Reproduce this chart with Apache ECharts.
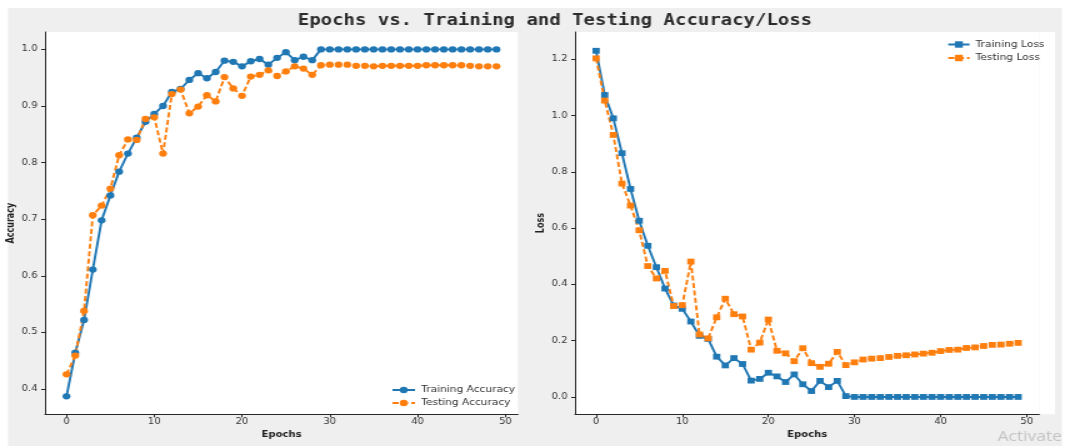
<!DOCTYPE html>
<html>
<head>
<meta charset="utf-8">
<script src="https://cdn.jsdelivr.net/npm/echarts@6/dist/echarts.min.js"></script>
<style>
  html, body { margin: 0; padding: 0; overflow: hidden; background: #fff; }
  /* the reference is a horizontally stretched screenshot, so draw narrow and stretch */
  #chart { width: 855.2px; height: 446px; transform: scaleX(1.25); transform-origin: 0 0; }
</style>
</head>
<body>
<div id="chart"></div>
<script>
  var epochs = [0, 1, 2, 3, 4, 5, 6, 7, 8, 9, 10, 11, 12, 13, 14, 15, 16, 17, 18, 19,
    20, 21, 22, 23, 24, 25, 26, 27, 28, 29, 30, 31, 32, 33, 34, 35, 36, 37, 38, 39,
    40, 41, 42, 43, 44, 45, 46, 47, 48, 49];

  var trainAcc = [0.387, 0.464, 0.522, 0.611, 0.698, 0.742, 0.784, 0.816, 0.844, 0.872,
    0.886, 0.900, 0.925, 0.930, 0.946, 0.958, 0.949, 0.960, 0.980, 0.978,
    0.970, 0.979, 0.983, 0.973, 0.985, 0.995, 0.981, 0.987, 0.981, 1.000,
    1.000, 1.000, 1.000, 1.000, 1.000, 1.000, 1.000, 1.000, 1.000, 1.000,
    1.000, 1.000, 1.000, 1.000, 1.000, 1.000, 1.000, 1.000, 1.000, 1.000];

  var testAcc = [0.426, 0.459, 0.538, 0.707, 0.724, 0.754, 0.813, 0.841, 0.840, 0.877,
    0.880, 0.816, 0.921, 0.929, 0.887, 0.899, 0.919, 0.908, 0.951, 0.931,
    0.918, 0.952, 0.955, 0.963, 0.953, 0.961, 0.970, 0.966, 0.955, 0.972,
    0.973, 0.973, 0.973, 0.971, 0.971, 0.970, 0.971, 0.971, 0.971, 0.971,
    0.971, 0.972, 0.972, 0.972, 0.972, 0.972, 0.971, 0.970, 0.970, 0.970];

  var trainLoss = [1.230, 1.073, 0.990, 0.866, 0.739, 0.626, 0.537, 0.461, 0.385, 0.325,
    0.313, 0.268, 0.217, 0.206, 0.143, 0.112, 0.138, 0.117, 0.058, 0.064,
    0.086, 0.073, 0.053, 0.080, 0.045, 0.021, 0.057, 0.035, 0.057, 0.003,
    0.000, 0.000, 0.000, 0.000, 0.000, 0.000, 0.000, 0.000, 0.000, 0.000,
    0.000, 0.000, 0.000, 0.000, 0.000, 0.000, 0.000, 0.000, 0.000, 0.000];

  var testLoss = [1.203, 1.053, 0.931, 0.758, 0.680, 0.592, 0.465, 0.421, 0.448, 0.323,
    0.326, 0.481, 0.222, 0.208, 0.283, 0.349, 0.294, 0.286, 0.168, 0.193,
    0.275, 0.164, 0.155, 0.127, 0.173, 0.120, 0.107, 0.118, 0.160, 0.113,
    0.123, 0.133, 0.136, 0.138, 0.142, 0.146, 0.148, 0.151, 0.154, 0.157,
    0.163, 0.167, 0.168, 0.174, 0.176, 0.181, 0.185, 0.186, 0.189, 0.192];

  var epochTicks = [0, 10, 20, 30, 40, 50];
  var accTicks = [0.4, 0.5, 0.6, 0.7, 0.8, 0.9, 1.0];
  var lossTicks = [0.0, 0.2, 0.4, 0.6, 0.8, 1.0, 1.2];

  var blue = '#1f77b4';
  var orange = '#ff7f0e';
  var axisColor = '#262626';
  var textColor = '#333';

  function pairs(ys) {
    return epochs.map(function (x, i) { return [x, ys[i]]; });
  }

  function xAxisFor(gridIndex) {
    return {
      type: 'value', gridIndex: gridIndex, min: -2.45, max: 51.45,
      name: 'Epochs', nameLocation: 'middle', nameGap: 17,
      nameTextStyle: { fontFamily: 'DejaVu Sans', fontWeight: 'bold', fontSize: 8, color: '#222' },
      axisLine: { show: true, onZero: false, lineStyle: { color: axisColor, width: 1 } },
      axisTick: { show: true, length: 3, customValues: epochTicks, lineStyle: { color: axisColor } },
      axisLabel: {
        customValues: epochTicks, margin: 4, fontFamily: 'DejaVu Sans', fontSize: 8, color: textColor,
        formatter: function (v) { return String(Math.round(v)); }
      },
      splitLine: { show: false }
    };
  }

  function yAxisFor(gridIndex, name, min, max, ticks, nameGap) {
    return {
      type: 'value', gridIndex: gridIndex, min: min, max: max,
      name: name, nameLocation: 'middle', nameGap: nameGap,
      nameTextStyle: { fontFamily: 'DejaVu Sans', fontWeight: 'bold', fontSize: 8, color: '#222' },
      axisLine: { show: true, onZero: false, lineStyle: { color: axisColor, width: 1 } },
      axisTick: { show: true, length: 3, customValues: ticks, lineStyle: { color: axisColor } },
      axisLabel: {
        customValues: ticks, margin: 6, fontFamily: 'DejaVu Sans', fontSize: 8, color: textColor,
        formatter: function (v) { return v.toFixed(1); }
      },
      splitLine: { show: false }
    };
  }

  function lineSeries(name, ys, axisIndex, color, symbol, size, dashed) {
    return {
      name: name, type: 'line', xAxisIndex: axisIndex, yAxisIndex: axisIndex,
      data: pairs(ys), symbol: symbol, symbolSize: size, showSymbol: true,
      lineStyle: { color: color, width: 1.9, type: dashed ? [5, 2.5] : 'solid' },
      itemStyle: { color: color, borderWidth: 0 },
      emphasis: { disabled: true }
    };
  }

  var legendText = { fontFamily: 'DejaVu Sans', fontSize: 8.5, color: textColor };

  var chart = echarts.init(document.getElementById('chart'), null, { renderer: 'canvas' });
  chart.setOption({
    animation: false,
    backgroundColor: '#efefef',
    title: {
      text: 'Epochs vs. Training and Testing Accuracy/Loss',
      left: 439, top: 9, textAlign: 'center',
      textStyle: { fontFamily: 'DejaVu Sans Mono', fontWeight: 'bold', fontSize: 15.2, color: '#2b2b2b' }
    },
    graphic: [
      // white margins of the screenshot
      { type: 'rect', shape: { x: 0, y: 0, width: 856, height: 8 }, style: { fill: '#fff' }, silent: true },
      { type: 'rect', shape: { x: 0, y: 0, width: 6.4, height: 446 }, style: { fill: '#fff' }, silent: true },
      { type: 'rect', shape: { x: 849.6, y: 0, width: 6, height: 446 }, style: { fill: '#fff' }, silent: true },
      { type: 'rect', shape: { x: 831.4, y: 32, width: 12.6, height: 382.3 }, style: { fill: '#fff' }, silent: true },
      {
        type: 'text', x: 798, y: 437, silent: true,
        style: { text: 'Activate', font: '14px "Open Sans"', fill: '#c4c4c4', verticalAlign: 'middle' }
      }
    ],
    legend: [
      {
        data: ['Training Accuracy', 'Testing Accuracy'], orient: 'vertical',
        left: 313, top: 385.5, padding: 0, itemGap: 4, itemWidth: 18, itemHeight: 8,
        textStyle: legendText
      },
      {
        data: ['Training Loss', 'Testing Loss'], orient: 'vertical',
        left: 757.6, top: 40, padding: 0, itemGap: 4.5, itemWidth: 17, itemHeight: 8,
        textStyle: legendText
      }
    ],
    grid: [
      { left: 36, top: 32, width: 378.4, height: 382.3, show: true, backgroundColor: '#fff', borderWidth: 0 },
      { left: 460, top: 32, width: 371.4, height: 382.3, show: true, backgroundColor: '#fff', borderWidth: 0 }
    ],
    xAxis: [xAxisFor(0), xAxisFor(1)],
    yAxis: [
      yAxisFor(0, 'Accuracy', 0.3553, 1.0307, accTicks, 20.5),
      yAxisFor(1, 'Loss', -0.0617, 1.2967, lossTicks, 22)
    ],
    series: [
      lineSeries('Training Accuracy', trainAcc, 0, blue, 'circle', 6.3, false),
      lineSeries('Testing Accuracy', testAcc, 0, orange, 'circle', 6.3, true),
      lineSeries('Training Loss', trainLoss, 1, blue, 'rect', 5.8, false),
      lineSeries('Testing Loss', testLoss, 1, orange, 'rect', 5.8, true)
    ]
  });
</script>
</body>
</html>
